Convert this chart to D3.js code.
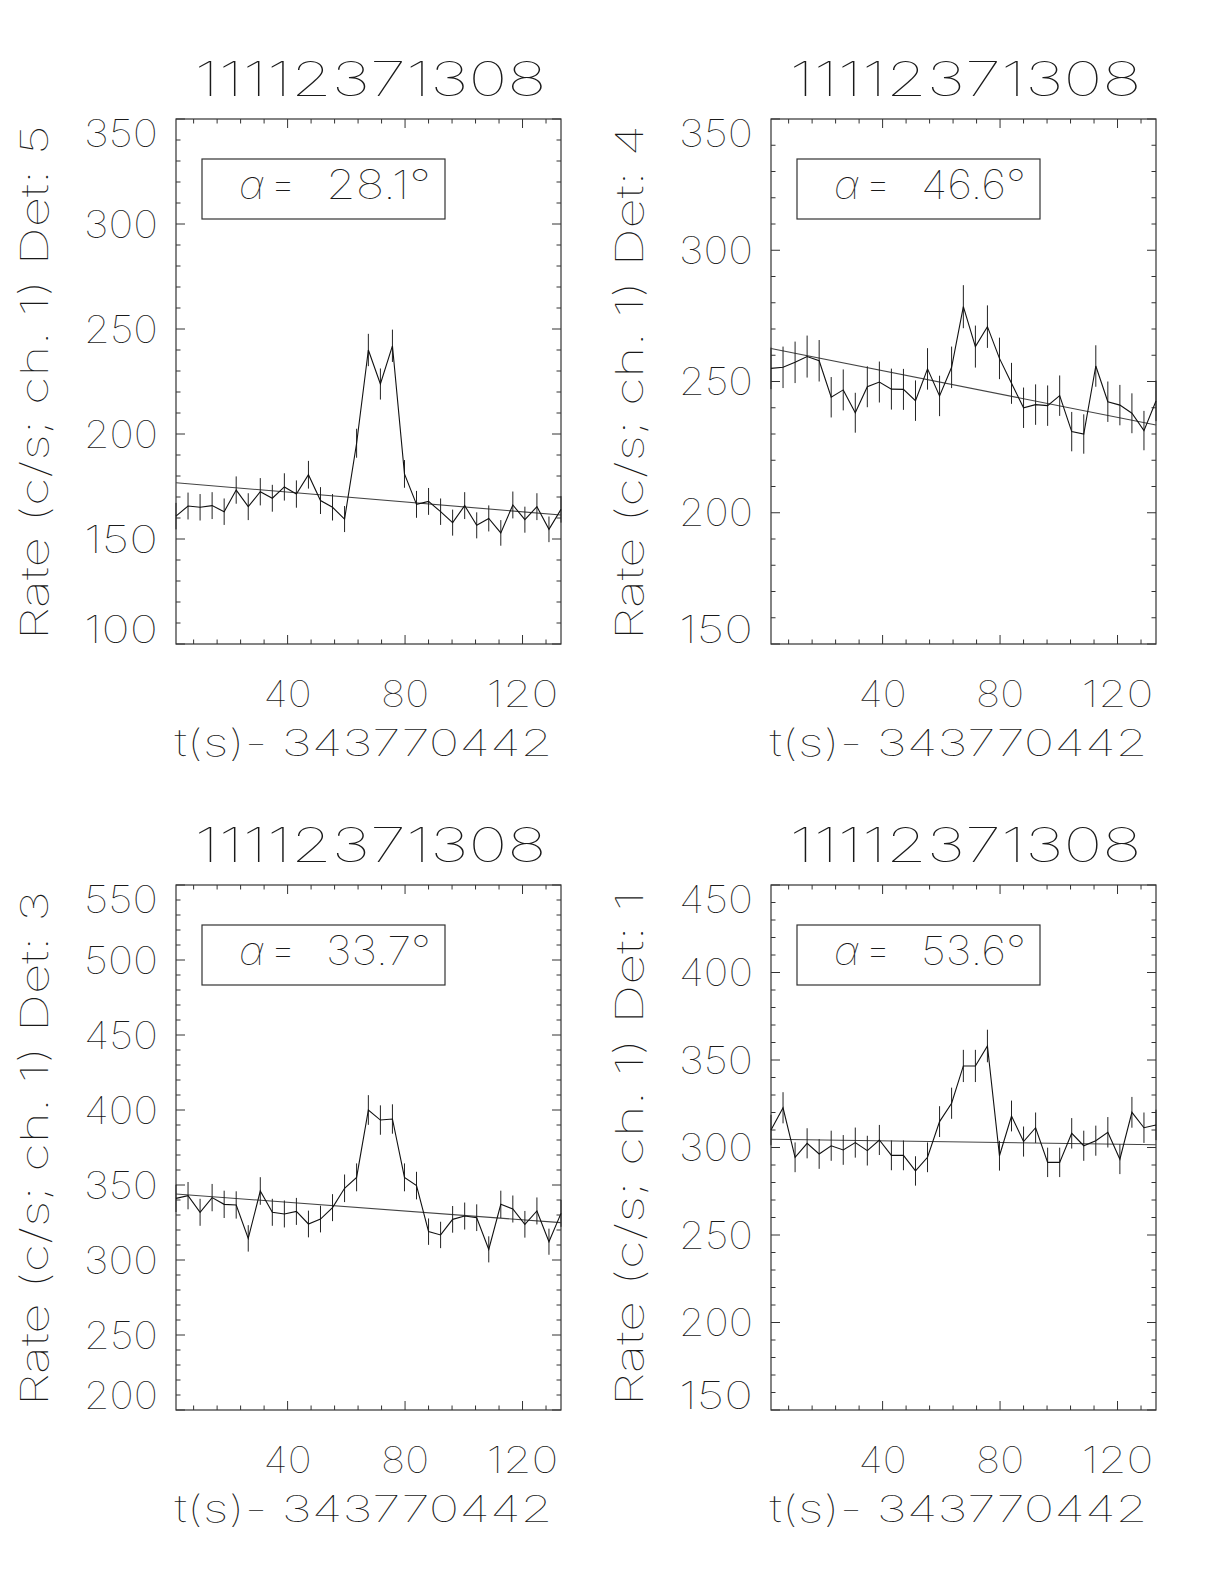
<!DOCTYPE html>
<html><head><meta charset="utf-8">
<script src="https://cdn.jsdelivr.net/npm/d3@7"></script>
<style>
body{margin:0;background:#fff}
text{font-family:Inter,"DejaVu Sans",sans-serif;font-weight:100;fill:#1a1a1a}
</style>
</head><body>
<svg id="c" width="1224" height="1584"></svg>
<script>
// ---------------- data ----------------
const titleText = "11112371308";
const xAxisTitle = "t(s)- 343770442";
const detectors = ["5", "4", "3", "1"];
const alphas = ["28.1", "46.6", "33.7", "53.6"];

const times = [2.0, 6.1, 10.2, 14.3, 18.4, 22.5, 26.6, 30.7, 34.8, 38.9, 43.0,
  47.1, 51.2, 55.3, 59.4, 63.5, 67.5, 71.6, 75.7, 79.8, 83.9, 88.0, 92.1, 96.2,
  100.3, 104.4, 108.5, 112.6, 116.7, 120.8, 124.9, 129.0, 133.1];

const rateDet5 = [160.9, 165.7, 165.1, 165.9, 163.0, 173.3, 165.4, 172.5, 169.4, 174.8, 171.4,
  180.6, 168.3, 165.1, 159.5, 195.6, 240.0, 223.8, 242.0, 181.0, 166.5, 167.9, 163.0, 157.8,
  165.9, 156.5, 159.8, 152.9, 166.2, 159.2, 165.4, 154.6, 164.1];
const errDet5 = [6.3, 6.4, 6.3, 6.4, 6.3, 6.5, 6.4, 6.5, 6.4, 6.5, 6.5,
  6.6, 6.4, 6.3, 6.2, 6.9, 7.7, 7.4, 7.7, 6.6, 6.4, 6.4, 6.3, 6.2,
  6.4, 6.2, 6.2, 6.1, 6.4, 6.2, 6.4, 6.1, 6.3];

const rateDet4 = [255.0, 255.4, 257.3, 259.5, 257.9, 244.0, 246.8, 238.1, 248.0, 249.8, 247.1,
  247.0, 242.7, 254.8, 244.5, 255.4, 278.5, 263.3, 270.9, 258.8, 249.3, 240.0, 241.2, 240.8,
  244.6, 230.9, 230.0, 255.9, 242.3, 241.0, 237.9, 231.3, 242.6];
const errDet4 = [7.9, 7.9, 7.9, 8.0, 7.9, 7.7, 7.8, 7.6, 7.8, 7.8, 7.8,
  7.8, 7.7, 7.9, 7.7, 7.9, 8.2, 8.0, 8.1, 7.9, 7.8, 7.7, 7.7, 7.7,
  7.7, 7.5, 7.5, 7.9, 7.7, 7.7, 7.6, 7.5, 7.7];

const rateDet3 = [341.1, 342.9, 331.8, 341.6, 337.1, 336.7, 314.4, 346.0, 331.8, 330.7, 332.4,
  324.0, 327.3, 334.9, 347.8, 355.1, 400.0, 393.3, 394.0, 355.1, 349.6, 318.9, 316.7, 327.1,
  329.3, 328.2, 307.1, 337.1, 334.0, 323.8, 332.7, 312.2, 331.1];
const errDet3 = [9.1, 9.1, 9.0, 9.1, 9.1, 9.1, 8.8, 9.2, 9.0, 9.0, 9.0,
  8.9, 8.9, 9.0, 9.2, 9.3, 9.9, 9.8, 9.8, 9.3, 9.2, 8.8, 8.8, 8.9,
  9.0, 8.9, 8.7, 9.1, 9.0, 8.9, 9.0, 8.7, 9.0];

const rateDet1 = [310.0, 322.7, 294.4, 302.4, 296.3, 301.0, 298.6, 302.8, 298.2, 304.3, 295.5,
  295.5, 286.6, 294.4, 314.8, 325.3, 346.6, 346.6, 358.0, 295.3, 318.0, 303.4, 311.3, 291.5,
  291.5, 308.1, 301.0, 303.9, 308.7, 293.3, 320.1, 311.3, 312.9];
const errDet1 = [8.7, 8.9, 8.5, 8.6, 8.5, 8.6, 8.5, 8.6, 8.5, 8.6, 8.5,
  8.5, 8.4, 8.5, 8.8, 8.9, 9.2, 9.2, 9.3, 8.5, 8.8, 8.6, 8.7, 8.4,
  8.4, 8.7, 8.6, 8.6, 8.7, 8.5, 8.8, 8.7, 8.7];

// background fit: value at start and end of time range
const fitDet5 = [176.8, 161.4];
const fitDet4 = [262.6, 233.4];
const fitDet3 = [344.0, 324.9];
const fitDet1 = [304.7, 301.6];

const yDomains = [[100, 350], [150, 350], [200, 550], [150, 450]];
const yTickLabels = [[100, 150, 200, 250, 300, 350], [150, 200, 250, 300, 350],
  [200, 250, 300, 350, 400, 450, 500, 550], [150, 200, 250, 300, 350, 400, 450]];
const xTickLabels = [40, 80, 120];

const rates = [rateDet5, rateDet4, rateDet3, rateDet1];
const errs = [errDet5, errDet4, errDet3, errDet1];
const fits = [fitDet5, fitDet4, fitDet3, fitDet1];

// ---------------- layout ----------------
const W = 385, H = 525;
const origins = [[176, 119], [771, 119], [176, 885], [771, 885]];
const majLen = 9, minLen = 4.5;

const svg = d3.select("#c");

origins.forEach(([ox, oy], i) => {
  const g = svg.append("g").attr("transform", `translate(${ox},${oy})`);
  const x = d3.scaleLinear().domain([times[0], times[times.length - 1]]).range([0, W]);
  const y = d3.scaleLinear().domain(yDomains[i]).range([H, 0]);

  // frame
  g.append("rect").attr("x", 0).attr("y", 0).attr("width", W).attr("height", H)
    .attr("fill", "none").attr("stroke", "#333").attr("stroke-width", 1.2);

  // x ticks
  const xMinor = d3.range(8, 134, 8).filter(v => v >= x.domain()[0] && v <= x.domain()[1]);
  xMinor.forEach(v => {
    const len = xTickLabels.includes(v) ? majLen : minLen;
    g.append("line").attr("x1", x(v)).attr("x2", x(v)).attr("y1", H).attr("y2", H - len).attr("stroke", "#333");
    g.append("line").attr("x1", x(v)).attr("x2", x(v)).attr("y1", 0).attr("y2", len).attr("stroke", "#333");
  });
  xTickLabels.forEach(v => {
    const s = String(v);
    g.append("text").attr("x", x(v)).attr("y", H + 63).attr("text-anchor", "middle")
      .attr("font-size", 37).attr("textLength", 24 * s.length).attr("lengthAdjust", "spacingAndGlyphs").text(s);
  });

  // y ticks
  const [y0, y1] = yDomains[i];
  d3.range(y0, y1 + 0.1, 10).forEach(v => {
    const len = (v % 50 === 0) ? majLen : minLen;
    g.append("line").attr("x1", 0).attr("x2", len).attr("y1", y(v)).attr("y2", y(v)).attr("stroke", "#333");
    g.append("line").attr("x1", W).attr("x2", W - len).attr("y1", y(v)).attr("y2", y(v)).attr("stroke", "#333");
  });
  yTickLabels[i].forEach((v, k, arr) => {
    let dy = 13.5;
    if (k === 0) dy = -1;
    if (k === arr.length - 1) dy = 28;
    const s = String(v);
    g.append("text").attr("x", -92).attr("y", y(v) + dy)
      .attr("font-size", 38).attr("textLength", 74).attr("lengthAdjust", "spacingAndGlyphs").text(s);
  });

  // title
  g.append("text").attr("x", W / 2 + 2).attr("y", -23).attr("text-anchor", "middle")
    .attr("font-size", 48).attr("textLength", 352).attr("lengthAdjust", "spacingAndGlyphs").text(titleText);

  // x axis title
  g.append("text").attr("x", W / 2 - 5).attr("y", H + 112).attr("text-anchor", "middle")
    .attr("font-size", 37).attr("textLength", 378).attr("lengthAdjust", "spacingAndGlyphs").text(xAxisTitle);

  // y axis title
  g.append("text").attr("transform", `translate(-128,${H / 2 + 1}) rotate(-90)`)
    .attr("text-anchor", "middle").attr("font-size", 38)
    .attr("textLength", 515).attr("lengthAdjust", "spacingAndGlyphs")
    .text(`Rate (c/s; ch. 1) Det: ${detectors[i]}`);

  // alpha box
  g.append("rect").attr("x", 26).attr("y", 40).attr("width", 243).attr("height", 60)
    .attr("fill", "none").attr("stroke", "#333").attr("stroke-width", 1.2);
  g.append("text").attr("x", 63).attr("y", 80).attr("font-size", 40)
    .attr("font-style", "italic").text("\u03b1");
  g.append("text").attr("x", 94).attr("y", 80).attr("font-size", 44)
    .attr("textLength", 26).attr("lengthAdjust", "spacingAndGlyphs").text("=");
  g.append("text").attr("x", 150).attr("y", 80).attr("font-size", 40)
    .attr("textLength", 105).attr("lengthAdjust", "spacingAndGlyphs").text(`${alphas[i]}\u00b0`);

  // fit line
  g.append("line").attr("x1", x(times[0])).attr("x2", x(times[times.length - 1]))
    .attr("y1", y(fits[i][0])).attr("y2", y(fits[i][1]))
    .attr("stroke", "#444").attr("stroke-width", 1.1);

  // error bars
  g.selectAll(".eb").data(times).enter().append("line")
    .attr("x1", d => x(d)).attr("x2", d => x(d))
    .attr("y1", (d, k) => y(rates[i][k] - errs[i][k]))
    .attr("y2", (d, k) => y(rates[i][k] + errs[i][k]))
    .attr("stroke", "#222").attr("stroke-width", 1);

  // data line
  const line = d3.line().x((d, k) => x(times[k])).y(d => y(d));
  g.append("path").attr("d", line(rates[i])).attr("fill", "none")
    .attr("stroke", "#111").attr("stroke-width", 1.1);
});
</script>
</body></html>
